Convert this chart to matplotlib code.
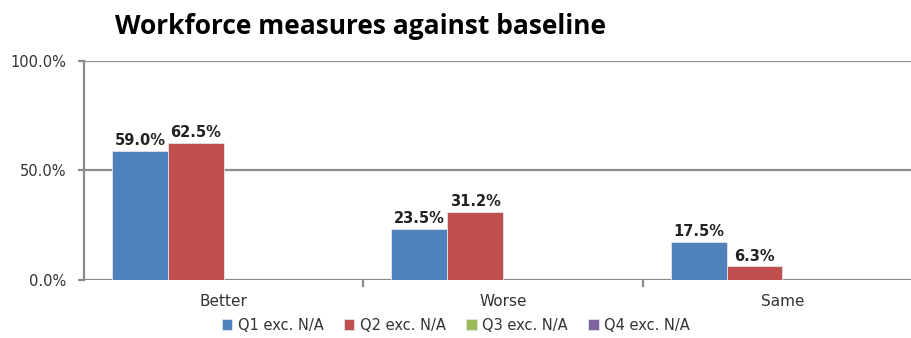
import numpy as np
import matplotlib.pyplot as plt
from matplotlib.ticker import PercentFormatter, FixedLocator

categories = ["Better", "Worse", "Same"]
series_names = ["Q1 exc. N/A", "Q2 exc. N/A", "Q3 exc. N/A", "Q4 exc. N/A"]
q1 = [59.0, 23.5, 17.5]
q2 = [62.5, 31.2, 6.3]
q3 = [np.nan, np.nan, np.nan]
q4 = [np.nan, np.nan, np.nan]
colors = ["#4F81BD", "#C0504D", "#9BBB59", "#8064A2"]

plt.rcParams["font.family"] = ["DejaVu Sans"]

fig = plt.figure(figsize=(9.12, 3.38), dpi=100)
ax = fig.add_axes([0.0921, 0.1716, 0.919, 0.648])

x = np.arange(len(categories))
width = 0.2
offsets = [-0.3, -0.1, 0.1, 0.3]
handles = []
for vals, name, col, off in zip([q1, q2, q3, q4], series_names, colors, offsets):
    bars = ax.bar(x + off, vals, width, color=col, edgecolor="#dfe6ee",
                  linewidth=0.6, label=name, zorder=3)
    handles.append(bars)
    for xi, v in zip(x + off, vals):
        if not np.isnan(v):
            ax.text(xi, v + 1.2, f"{v:.1f}%", ha="center", va="bottom",
                    fontsize=10.5, fontweight="bold", color="#222222")

ax.set_xlim(-0.5, 2.5)
ax.set_ylim(0, 100)
ax.set_yticks([0, 50, 100])
ax.yaxis.set_major_formatter(PercentFormatter(decimals=1))
ax.grid(axis="y", color="#8c8c8c", linewidth=1.6, zorder=0)

ax.set_xticks(x)
ax.set_xticklabels(categories)
ax.xaxis.set_minor_locator(FixedLocator([0.5, 1.5]))
ax.tick_params(axis="x", which="major", length=0, pad=10, labelsize=11, labelcolor="#333333")
ax.tick_params(axis="x", which="minor", length=5, width=1.6, color="#8c8c8c", direction="out")
ax.tick_params(axis="y", length=4, width=1.6, color="#8c8c8c", labelsize=10.5,
               labelcolor="#333333", pad=9)

for side in ["top", "right", "bottom"]:
    ax.spines[side].set_visible(False)
ax.spines["left"].set_color("#8c8c8c")
ax.spines["left"].set_linewidth(1.6)

fig.text(115 / 912, 1 - 27 / 338, "Workforce measures against baseline",
         fontsize=19, fontweight="bold", fontstretch="normal", family="Open Sans",
         va="center", ha="left")

fig.legend(handles=handles, labels=series_names, loc="center",
           bbox_to_anchor=(456 / 912, 1 - 325 / 338), ncol=4, frameon=False,
           fontsize=10.5, handlelength=0.7, handleheight=0.7, handletextpad=0.4,
           columnspacing=1.4, labelcolor="#333333")

fig.savefig("out.png", dpi=100)
